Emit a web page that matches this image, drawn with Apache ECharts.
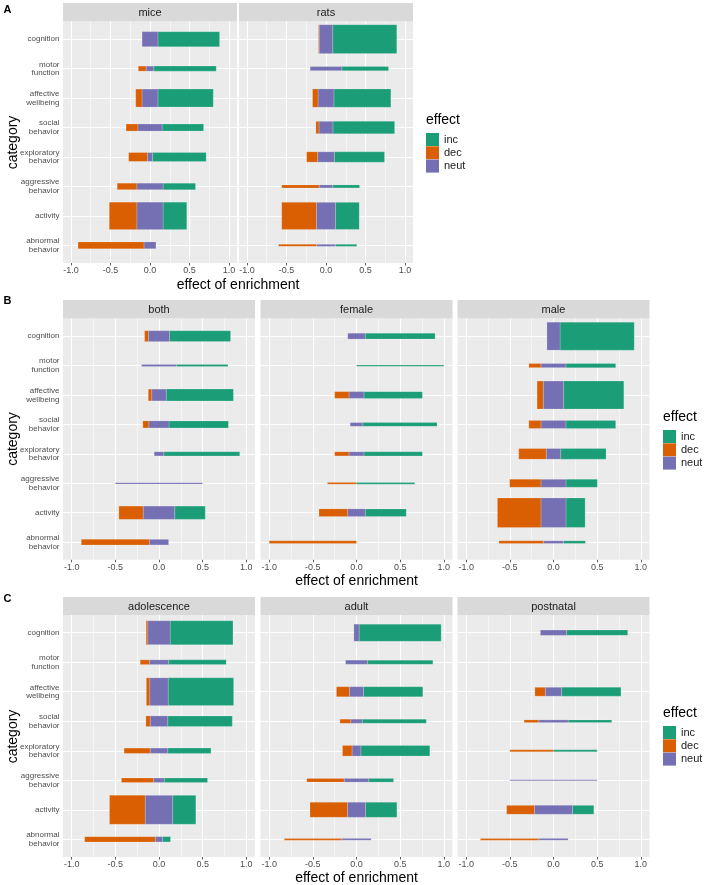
<!DOCTYPE html>
<html><head><meta charset="utf-8">
<script src="https://cdn.jsdelivr.net/npm/echarts@6.0.0/dist/echarts.min.js"></script>
<style>html,body{margin:0;padding:0;background:#fff}#chart{width:708px;height:885px}</style>
</head><body><div id="chart"></div>
<script>
// ---------- data ----------
const categories = ['cognition','motor\nfunction','affective\nwellbeing','social\nbehavior','exploratory\nbehavior','aggressive\nbehavior','activity','abnormal\nbehavior'];
const effects = ['inc','dec','neut'];
const effectColors = ['#1B9E77','#D95F02','#7570B3'];
const xTickValues = [-1, -0.5, 0, 0.5, 1];
const xMinorValues = [-0.75, -0.25, 0.25, 0.75];
const panelLabels = ['A','B','C'];
const facetNames = ['mice','rats','both','female','male','adolescence','adult','postnatal'];

// proportions of studies per category (dec / neut / inc) and relative bar size
const miceDec  = [0, 0.10, 0.08, 0.15, 0.24, 0.25, 0.35, 0.835];
const miceNeut = [0.20, 0.095, 0.20, 0.305, 0.06, 0.33, 0.33, 0.15];
const miceInc  = [0.78, 0.79, 0.70, 0.525, 0.68, 0.41, 0.30, 0];
const miceSize = [0.51, 0.17, 0.61, 0.24, 0.30, 0.22, 0.93, 0.23];

const ratsDec  = [0.01, 0, 0.07, 0.04, 0.14, 0.475, 0.44, 0.48];
const ratsNeut = [0.17, 0.40, 0.20, 0.175, 0.21, 0.17, 0.24, 0.24];
const ratsInc  = [0.81, 0.59, 0.72, 0.78, 0.635, 0.34, 0.30, 0.27];
const ratsSize = [0.98, 0.14, 0.62, 0.42, 0.35, 0.10, 0.92, 0.07];

const bothDec  = [0.045, 0, 0.04, 0.07, 0, 0, 0.28, 0.78];
const bothNeut = [0.24, 0.40, 0.165, 0.23, 0.11, 1.0, 0.36, 0.22];
const bothInc  = [0.70, 0.59, 0.77, 0.68, 0.87, 0, 0.35, 0];
const bothSize = [0.37, 0.07, 0.40, 0.24, 0.14, 0.045, 0.45, 0.19];

const femaleDec  = [0, 0, 0.165, 0, 0.165, 0.333, 0.33, 1.0];
const femaleNeut = [0.20, 0, 0.17, 0.145, 0.17, 0, 0.20, 0];
const femaleInc  = [0.80, 1.0, 0.67, 0.85, 0.67, 0.667, 0.47, 0];
const femaleSize = [0.20, 0.045, 0.23, 0.125, 0.14, 0.06, 0.26, 0.09];

const maleDec  = [0, 0.14, 0.072, 0.14, 0.316, 0.36, 0.50, 0.51];
const maleNeut = [0.15, 0.285, 0.232, 0.285, 0.164, 0.285, 0.285, 0.23];
const maleInc  = [0.85, 0.57, 0.69, 0.57, 0.52, 0.36, 0.22, 0.25];
const maleSize = [0.95, 0.14, 0.95, 0.27, 0.36, 0.27, 1.0, 0.09];

const adolescenceDec  = [0.02, 0.105, 0.04, 0.05, 0.30, 0.37, 0.41, 0.81];
const adolescenceNeut = [0.255, 0.22, 0.21, 0.20, 0.20, 0.12, 0.314, 0.083];
const adolescenceInc  = [0.72, 0.66, 0.75, 0.74, 0.495, 0.496, 0.265, 0.09];
const adolescenceSize = [0.81, 0.16, 0.94, 0.36, 0.18, 0.15, 0.98, 0.18];

const adultDec  = [0, 0, 0.15, 0.125, 0.11, 0.43, 0.43, 0.66];
const adultNeut = [0.06, 0.25, 0.16, 0.13, 0.10, 0.28, 0.206, 0.335];
const adultInc  = [0.94, 0.75, 0.68, 0.735, 0.79, 0.285, 0.36, 0];
const adultSize = [0.58, 0.14, 0.34, 0.14, 0.36, 0.125, 0.51, 0.06];

const postnatalDec  = [0, null, 0.12, 0.17, 0.5, 0, 0.32, 0.67];
const postnatalNeut = [0.30, null, 0.186, 0.335, 0, 1.0, 0.434, 0.335];
const postnatalInc  = [0.70, null, 0.68, 0.50, 0.5, 0, 0.245, 0];
const postnatalSize = [0.18, null, 0.30, 0.09, 0.07, 0.035, 0.30, 0.06];

// ---------- layout ----------
const FONT = "'Liberation Sans', Arial, sans-serif";
const facets = [
  {name: facetNames[0], dec: miceDec, neut: miceNeut, inc: miceInc, size: miceSize, left: 63, top: 21.5, width: 174, height: 241.5, first: true},
  {name: facetNames[1], dec: ratsDec, neut: ratsNeut, inc: ratsInc, size: ratsSize, left: 239, top: 21.5, width: 174, height: 241.5},
  {name: facetNames[2], dec: bothDec, neut: bothNeut, inc: bothInc, size: bothSize, left: 63, top: 318.5, width: 192, height: 241.3, first: true},
  {name: facetNames[3], dec: femaleDec, neut: femaleNeut, inc: femaleInc, size: femaleSize, left: 260.5, top: 318.5, width: 192, height: 241.3},
  {name: facetNames[4], dec: maleDec, neut: maleNeut, inc: maleInc, size: maleSize, left: 457.5, top: 318.5, width: 192, height: 241.3},
  {name: facetNames[5], dec: adolescenceDec, neut: adolescenceNeut, inc: adolescenceInc, size: adolescenceSize, left: 63, top: 615, width: 192, height: 242, first: true},
  {name: facetNames[6], dec: adultDec, neut: adultNeut, inc: adultInc, size: adultSize, left: 260.5, top: 615, width: 192, height: 242},
  {name: facetNames[7], dec: postnatalDec, neut: postnatalNeut, inc: postnatalInc, size: postnatalSize, left: 457.5, top: 615, width: 192, height: 242}
];
const stripH = [18.5, 18.5, 18];
const stripTops = [3, 300, 597];
const facetPanel = [0,0,1,1,1,2,2,2];
const rowValues = categories.map((c, i) => i + 1);

function renderBar(params, api) {
  const cat = api.value(0), lo = api.value(1), hi = api.value(2), w = api.value(3);
  const p1 = api.coord([lo, cat]);
  const p2 = api.coord([hi, cat]);
  const band = api.size([0, 1])[1];
  const h = Math.max(w * band, 1);
  return {
    type: 'rect',
    shape: {x: p1[0], y: p1[1] - h / 2, width: p2[0] - p1[0], height: h},
    style: {fill: api.visual('color'), stroke: 'rgba(255,255,255,0.35)', lineWidth: 0.5}
  };
}

const grids = [], xAxes = [], yAxes = [], series = [], graphics = [];
facets.forEach((f, i) => {
  grids.push({left: f.left, top: f.top, width: f.width, height: f.height, show: true,
    backgroundColor: '#EBEBEB', borderWidth: 0, containLabel: false, outerBoundsMode: 'none'});
  xAxes.push({gridIndex: i, type: 'value', min: -1.1, max: 1.1, position: 'bottom',
    axisLine: {show: false},
    axisTick: {show: true, length: 2.5, customValues: xTickValues, lineStyle: {color: '#333333', width: 0.8}},
    axisLabel: {show: true, customValues: xTickValues, formatter: v => v.toFixed(1), fontSize: 9,
      color: '#4D4D4D', margin: 3.5, fontFamily: FONT},
    splitLine: {show: true, lineStyle: {color: '#FFFFFF', width: 1}}});
  xAxes.push({gridIndex: i, type: 'value', min: -1.1, max: 1.1, position: 'top',
    axisLine: {show: false},
    axisTick: {show: false, customValues: xMinorValues},
    axisLabel: {show: false, customValues: xMinorValues},
    splitLine: {show: true, lineStyle: {color: '#FFFFFF', width: 0.5}}});
  yAxes.push({gridIndex: i, type: 'value', inverse: true, min: 0.4, max: 8.6,
    axisLine: {show: false},
    axisTick: {show: !!f.first, length: 2.5, customValues: rowValues, lineStyle: {color: '#333333', width: 0.8}},
    axisLabel: {show: !!f.first, customValues: rowValues, formatter: v => categories[Math.round(v) - 1],
      fontSize: 8, lineHeight: 8.6, color: '#4D4D4D', margin: 3.5, align: 'right', fontFamily: FONT},
    splitLine: {show: true, lineStyle: {color: '#FFFFFF', width: 1}}});

  effects.forEach((eff, e) => {
    const data = [];
    for (let k = 0; k < categories.length; k++) {
      if (f.dec[k] == null) continue;
      const half = f.neut[k] / 2;
      let lo, hi;
      if (eff === 'dec') { lo = -half - f.dec[k]; hi = -half; }
      else if (eff === 'neut') { lo = -half; hi = half; }
      else { lo = half; hi = half + f.inc[k]; }
      if (hi - lo <= 0) continue;
      data.push([k + 1, lo, hi, f.size[k]]);
    }
    series.push({type: 'custom', name: eff, xAxisIndex: 2 * i, yAxisIndex: i,
      itemStyle: {color: effectColors[e]}, renderItem: renderBar,
      encode: {x: [1, 2], y: 0}, data: data, silent: true});
  });

  // facet strip
  const p = facetPanel[i];
  graphics.push({type: 'rect', shape: {x: f.left, y: stripTops[p], width: f.width, height: stripH[p]},
    style: {fill: '#D9D9D9'}, silent: true});
  graphics.push({type: 'text', x: f.left + f.width / 2, y: stripTops[p] + stripH[p] / 2 + 0.5,
    style: {text: f.name, font: '11px ' + FONT, fill: '#1A1A1A', align: 'center', verticalAlign: 'middle'}, silent: true});
});

// panel letters, axis titles, legend titles
const panelRows = [
  {letterY: 10, xTitleX: 238, xTitleY: 285, yTitleY: 142.5, legendTitleX: 426, legendTitleY: 120},
  {letterY: 301, xTitleX: 356.5, xTitleY: 581, yTitleY: 439, legendTitleX: 663, legendTitleY: 417},
  {letterY: 599, xTitleX: 356.5, xTitleY: 878, yTitleY: 736.5, legendTitleX: 663, legendTitleY: 713}
];
const legends = [];
panelRows.forEach((r, p) => {
  graphics.push({type: 'text', x: 3.5, y: r.letterY,
    style: {text: panelLabels[p], font: 'bold 11px ' + FONT, fill: '#000', align: 'left', verticalAlign: 'middle'}, silent: true});
  graphics.push({type: 'text', x: r.xTitleX, y: r.xTitleY,
    style: {text: 'effect of enrichment', font: '14px ' + FONT, fill: '#000', align: 'center', verticalAlign: 'middle'}, silent: true});
  graphics.push({type: 'text', x: 13.3, y: r.yTitleY, rotation: Math.PI / 2,
    style: {text: 'category', font: '14px ' + FONT, fill: '#000', align: 'center', verticalAlign: 'middle'}, silent: true});
  graphics.push({type: 'text', x: r.legendTitleX, y: r.legendTitleY,
    style: {text: 'effect', font: '14px ' + FONT, fill: '#000', align: 'left', verticalAlign: 'middle'}, silent: true});
  legends.push({data: effects, orient: 'vertical', left: r.legendTitleX, top: r.legendTitleY + 13,
    itemWidth: 13, itemHeight: 13, itemGap: 0.3, icon: 'rect', padding: 0, selectedMode: false,
    textStyle: {fontSize: 11, color: '#1A1A1A', fontFamily: FONT, lineHeight: 13}});
});

const chart = echarts.init(document.getElementById('chart'), null, {renderer: 'canvas'});
chart.setOption({
  animation: false,
  backgroundColor: '#FFFFFF',
  textStyle: {fontFamily: FONT},
  grid: grids,
  xAxis: xAxes,
  yAxis: yAxes,
  legend: legends,
  series: series,
  graphic: {elements: graphics}
});
</script>
</body></html>
